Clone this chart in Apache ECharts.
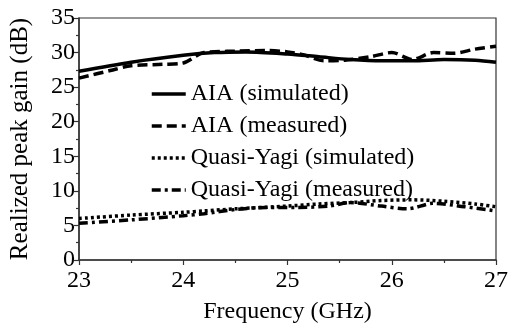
<!DOCTYPE html>
<html>
<head>
<meta charset="utf-8">
<script src="https://cdn.jsdelivr.net/npm/echarts@6/dist/echarts.min.js"></script>
<style>
html,body{margin:0;padding:0;background:#fff;}
#c{width:511px;height:329px;}
</style>
</head>
<body>
<div id="c"></div>
<script>
const aiaSimFreq = [23, 23.5, 24, 24.3, 24.6, 25, 25.3, 25.6, 25.9, 26.2, 26.5, 26.8, 27];
const aiaSimGain = [27.3, 28.6, 29.6, 30.0, 30.1, 29.8, 29.4, 29.0, 28.8, 28.8, 29.0, 28.9, 28.6];

const aiaMeasFreq = [23, 23.3, 23.5, 23.8, 24.0, 24.2, 24.5, 24.8, 25.0, 25.15, 25.35, 25.55, 25.8, 26.0, 26.2, 26.4, 26.6, 26.8, 27];
const aiaMeasGain = [26.3, 27.4, 28.1, 28.3, 28.5, 30.0, 30.2, 30.3, 30.1, 29.7, 28.8, 28.9, 29.4, 30.0, 29.0, 30.0, 29.9, 30.5, 30.9];

const qySimFreq = [23, 23.5, 24, 24.2, 24.5, 25, 25.3, 25.6, 25.9, 26.2, 26.5, 26.8, 27];
const qySimGain = [6.0, 6.5, 6.9, 7.1, 7.4, 7.8, 8.1, 8.3, 8.6, 8.7, 8.5, 8.1, 7.7];

const qyMeasFreq = [23, 23.5, 24, 24.2, 24.5, 24.8, 25.1, 25.4, 25.6, 25.9, 26.15, 26.4, 26.7, 27];
const qyMeasGain = [5.3, 5.8, 6.4, 6.7, 7.3, 7.6, 7.6, 7.8, 8.3, 7.8, 7.4, 8.2, 7.7, 7.1];

const seriesNames = ['AIA (simulated)', 'AIA (measured)', 'Quasi-Yagi (simulated)', 'Quasi-Yagi (measured)'];

const xTicks = [23, 24, 25, 26, 27];
const yTicks = [0, 5, 10, 15, 20, 25, 30, 35];

function pairs(fs, vs){ return fs.map((f,i)=>[f, vs[i]]); }

const FONT = '"Liberation Serif", "Times New Roman", serif';
const chart = echarts.init(document.getElementById('c'), null, {renderer:'canvas'});

function mkSeries(name, data, dash){
  return {
    name: name, type: 'line', data: data, showSymbol: false, symbol: 'none',
    smooth: 0.3,
    lineStyle: {color:'#000', width: 3.5, type: dash, cap: 'butt'},
    itemStyle: {color:'#000'},
    z: 3
  };
}

chart.setOption({
  backgroundColor: '#fff',
  animation: false,
  grid: {left: 70, right: 11, top: 18, bottom: 51, show: true, borderColor: '#333', borderWidth: 1.2, backgroundColor: 'transparent'},
  legend: {
    data: seriesNames,
    orient: 'vertical',
    left: 145, top: 77,
    itemWidth: 34, itemHeight: 14, itemGap: 8,
    itemStyle: {opacity: 0, borderWidth: 0},
    lineStyle: {width: 3.5, color: '#000'},
    textStyle: {fontFamily: FONT, fontSize: 24, color: '#000', padding: [0,0,0,0]}
  },
  xAxis: {
    type: 'value', min: 23, max: 27, interval: 1,
    name: 'Frequency (GHz)', nameLocation: 'middle', nameGap: 40,
    nameTextStyle: {fontFamily: FONT, fontSize: 24, color: '#000'},
    axisLine: {show: true, lineStyle: {color: '#333', width: 1.5}},
    axisTick: {show: true, length: 5, lineStyle: {color:'#333', width: 1.2}},
    minorTick: {show: true, splitNumber: 2, length: 3, lineStyle: {color:'#333', width: 1.2}},
    splitLine: {show: false},
    axisLabel: {fontFamily: FONT, fontSize: 24, color: '#000', margin: 9,
      formatter: v => xTicks.includes(v) ? String(v) : ''}
  },
  yAxis: {
    type: 'value', min: 0, max: 35, interval: 5,
    name: 'Realized peak gain (dB)', nameLocation: 'middle', nameGap: 46,
    nameTextStyle: {fontFamily: FONT, fontSize: 25, color: '#000'},
    axisLine: {show: true, lineStyle: {color: '#333', width: 1.5}},
    axisTick: {show: true, length: 5, lineStyle: {color:'#333', width: 1.2}},
    minorTick: {show: true, splitNumber: 2, length: 3, lineStyle: {color:'#333', width: 1.2}},
    splitLine: {show: false},
    axisLabel: {fontFamily: FONT, fontSize: 24, color: '#000', margin: 4,
      formatter: v => yTicks.includes(v) ? String(v) : ''}
  },
  series: [
    mkSeries(seriesNames[0], pairs(aiaSimFreq, aiaSimGain), 'solid'),
    mkSeries(seriesNames[1], pairs(aiaMeasFreq, aiaMeasGain), [10, 5]),
    mkSeries(seriesNames[2], pairs(qySimFreq, qySimGain), [3, 3]),
    mkSeries(seriesNames[3], pairs(qyMeasFreq, qyMeasGain), [9, 4, 3, 4])
  ]
});
</script>
</body>
</html>
